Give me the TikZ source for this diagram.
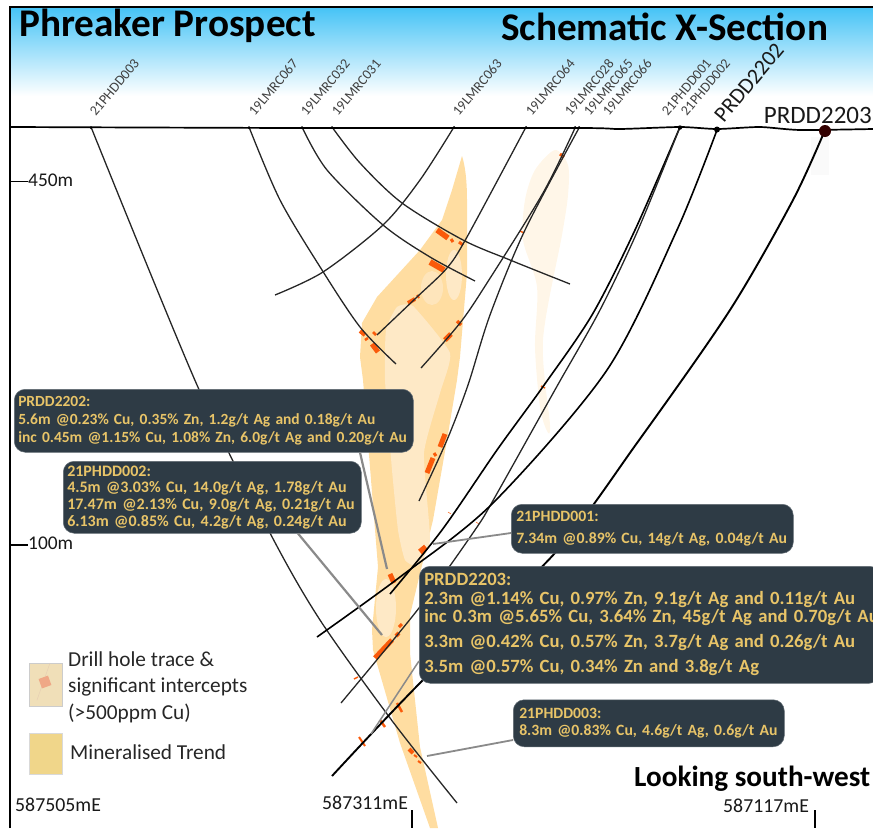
\documentclass[tikz,border=0pt]{standalone}
\usepackage{fontspec}
\setmainfont{Carlito}
\usetikzlibrary{positioning}

\definecolor{skytop}{HTML}{45C3F6}
\definecolor{trendfill}{HTML}{FFDDA1}
\definecolor{trendpale}{HTML}{FEE9C6}
\definecolor{trendfaint}{HTML}{FFF6E8}
\definecolor{boxfill}{HTML}{2E3B45}
\definecolor{boxtext}{HTML}{E8C468}
\definecolor{hitorange}{HTML}{FA5A0A}
\definecolor{leadgrey}{HTML}{8A8A8A}
\definecolor{swatchhit}{HTML}{F0DFB8}
\definecolor{swatchcore}{HTML}{EFA886}
\definecolor{swatchtrend}{HTML}{F0D68A}

\tikzset{
  trace/.style={line width=1.3pt, draw=black!85},
  tracewide/.style={line width=1.6pt, draw=black},
  hit/.style={line width=#1, draw=hitorange},
  hit/.default=5pt,
  leader/.style={line width=#1, draw=leadgrey},
  leader/.default=2.2pt,
  notebox/.style={anchor=north west, rectangle, rounded corners=11pt, fill=boxfill,
    draw=boxfill!75!white, line width=.5pt, text=boxtext, align=left, inner xsep=5pt, inner ysep=0pt},
  holelabel/.style={anchor=south west, rotate=50, inner sep=0pt, text=black!75, font=\fontsize{14}{14}\selectfont},
  eastlabel/.style={inner sep=0pt, text=black!90, font=\fontsize{19.8}{19.8}\selectfont},
  legendtext/.style={anchor=west, inner sep=0pt, text=black!85, font=\fontsize{21.3}{26.5}\selectfont, align=left},
  titletext/.style={anchor=west, inner sep=0pt, font=\fontsize{39.2}{39.2}\bfseries\selectfont}
}

\begin{document}
\begin{tikzpicture}[x=1pt,y=-1pt]
    \useasboundingbox (0,0) rectangle (873,828);

    % --- Header band ---
    \fill[top color=skytop, bottom color=white] (10,7) rectangle (873,96);

    % --- Mineralised trend ---
    \fill[trendfaint] plot[smooth cycle, tension=.5] coordinates {(555,150) (568,165) (568,195)
      (562,235) (543,340) (550,425) (547,431) (540,407) (535,347) (537,287) (523,240) (525,200) (535,170)};
    \fill[black!2] (811,137) rectangle (829,175);
    \fill[trendfill] (462,156) .. controls (465,165) and (467,180) .. (467,200) -- (467,273)
      -- (460,357) -- (457,380) -- (447,440) -- (433,520) -- (425,553) -- (410,615) -- (410,653)
      -- (420,747) -- (438,828) -- (430,828) -- (400,743) -- (373,650) -- (372,630) -- (378,567)
      -- (363,380) -- (360,357) -- (362,323) -- (377,297) -- (420,250) -- (442,220) -- (452,190) -- cycle;
    \fill[trendpale] plot[smooth cycle, tension=.3] coordinates {(385,380) (386,330) (397,307) (413,306)
      (450,353) (440,393) (424,453) (430,540) (418,566) (405,560) (398,530) (392,470)};
    \fill[trendpale] (386,608) ellipse (10 and 29);
    \fill[trendpale!70!trendfill] (432,288) ellipse (11 and 17);
    \fill[trendpale] (454,275) ellipse (8 and 25);

    % --- Significant intercepts ---
    \draw[hit=5.5pt] (437,230) -- (448,238);
    \draw[hit=3pt] (451,239) -- (453,242);
    \draw[hit=3pt] (459,242) -- (463,245);
    \draw[hit=6pt] (430,262) -- (444,270);
    \draw[hit=4pt] (408,303) -- (415,299);
    \draw[hit=2pt] (417,295) -- (419,298);
    \draw[hit=4pt] (360,331) -- (365,335);
    \draw[hit=2.5pt] (365,340) -- (368,338);
    \draw[hit=2.5pt] (373,332) -- (376,335);
    \draw[hit] (372,344) -- (378,352);
    \draw[hit=3.5pt] (457,321) -- (461,325);
    \draw[hit] (445,340) -- (451,334);
    \draw[hit=3pt] (560,154) -- (564,157);
    \draw[hit=1.5pt] (520,231) -- (524,233);
    \draw[hit=1.5pt] (541,386) -- (545,388);
    \draw[hit] (440,447) -- (445,434);
    \draw[hit=3pt] (434,453) -- (436,456);
    \draw[hit] (427,473) -- (433,458);
    \draw[hit=6pt] (420,552) -- (426,547);
    \draw[hit] (390,574) -- (394,583);
    \draw[hit] (375,658) -- (392,640);
    \draw[hit=4pt] (396,636) -- (399,633);
    \draw[hit=3pt] (399,627) -- (402,624);
    \draw[hit=1.5pt] (354,679) -- (358,677);
    \draw[hit=2.5pt] (397,703) -- (402,712);
    \draw[hit=2.5pt] (380,720) -- (385,727);
    \draw[hit=2pt] (359,737) -- (365,746);
    \draw[hit=4pt] (409,749) -- (413,753);
    \draw[hit=2pt] (414,755) -- (417,757);
    \draw[hit=2pt] (418,761) -- (421,763);
    \draw[hit=.5pt] (448,512) -- (451,514);
    \draw[hit=.5pt] (476,522) -- (479,524);

    % --- Drill holes ---
    \draw[trace] plot[smooth] coordinates {(91,127) (197,385) (270,533) (320,620) (393,722) (457,803)};
    \draw[trace] plot[smooth] coordinates {(249,127) (280,200) (322,270) (360,327) (396,364)};
    \draw[trace] plot[smooth] coordinates {(302,127) (327,170) (383,225) (430,257) (475,281)};
    \draw[trace] plot[smooth] coordinates {(332,127) (360,163) (402,203) (463,240) (510,260) (570,284)};
    \draw[trace] plot[smooth] coordinates {(454,127) (420,180) (383,225) (323,272) (275,295)};
    \draw[trace] plot[smooth] coordinates {(526,127) (467,237) (447,268) (417,297) (377,335)};
    \draw[trace] plot[smooth] coordinates {(575,128) (543,193) (487,283) (460,323) (421,368)};
    \draw[trace] plot[smooth] coordinates {(579,128) (525,230) (490,315) (468,385) (447,440) (419,501)};
    \draw[tracewide] plot[smooth] coordinates {(680,127) (635,230) (592,315) (542,388) (497,450) (442,530) (390,594)};
    \draw[trace] plot[smooth] coordinates {(680,127) (638,230) (600,310) (556,388) (495,497) (475,530) (419,608) (341,703)};
    \draw[tracewide] plot[smooth] coordinates {(717,130) (677,230) (607,370) (493,503) (400,577) (317,637)};
    \draw[line width=1.9pt] plot[smooth] coordinates {(825,130) (793,200) (730,310) (637,443) (555,553) (423,680) (332,776)};

    % --- Ground surface and frame ---
    \draw[line width=1.7pt] plot[smooth, tension=.4] coordinates {(11,127) (300,128) (580,128) (620,129) (680,127) (717,129) (760,127) (800,130) (873,129)};
    \draw[line width=2pt] (10,828) -- (10,6.5) -- (873,6.5);

    % --- Collars ---
    \foreach \px/\tipsize in {91/1.5,249/1.5,302/1.5,332/1.5,454/1.5,526/1.5,575/1.5,579/1.5,680/2.2}
        \fill (\px,127.5) circle (\tipsize);
    \fill (717,129.5) circle (3);
    \fill[black!80!red] (825,131) circle (6);

    % --- Hole labels ---
    \foreach \px/\lab in {96/21PHDD003,255/19LMRC067,307/19LMRC032,338/19LMRC031,459/19LMRC063,
        532/19LMRC064,571/19LMRC028,590/19LMRC065,609/19LMRC066,668/21PHDD001,687/21PHDD002}
        \node[holelabel] (\lab) at (\px,117) {\lab};
    \node[holelabel, text=black!90, font=\fontsize{22}{22}\selectfont] (PRDD2202) at (724,124) {PRDD2202};
    \node[inner sep=0pt, anchor=east, text=black!90, font=\fontsize{25}{25}\selectfont] (PRDD2203) at (872,115) {PRDD2203};

    % --- Depth ticks ---
    \node[eastlabel, anchor=west, font=\fontsize{19.4}{19.4}\selectfont] (depthTop) at (28,180) {450m};
    \node[eastlabel, anchor=west, font=\fontsize{19.4}{19.4}\selectfont] (depthLow) at (28,543) {100m};
    \draw[line width=1.4pt] (11,181.5) -- (depthTop.west |- 0,181.5);
    \draw[line width=1.4pt] (11,545) -- (depthLow.west |- 0,545);

    % --- Leader ends ---
    \coordinate (hitA) at (387,569);
    \coordinate (hitB) at (382,635);
    \coordinate (hitC) at (433,544);
    \coordinate (hitD) at (371,734);
    \coordinate (hitE) at (427,756);

    % --- Result boxes ---
    \node[notebox, inner xsep=4pt, text width=391pt, minimum height=63pt, yshift=-1pt, font=\fontsize{15.5}{18}\bfseries\selectfont] (boxPRDDa) at (14,388)
        {PRDD2202:\\5.6m @0.23\% Cu, 0.35\% Zn, 1.2g/t Ag and 0.18g/t Au\\inc 0.45m @1.15\% Cu, 1.08\% Zn, 6.0g/t Ag and 0.20g/t Au};
    \node[notebox, inner xsep=4pt, text width=290pt, minimum height=72pt, font=\fontsize{16}{16.7}\bfseries\selectfont] (boxPHDDb) at (63,461)
        {21PHDD002:\\4.5m @3.03\% Cu, 14.0g/t Ag, 1.78g/t Au\\17.47m @2.13\% Cu, 9.0g/t Ag, 0.21g/t Au\\6.13m @0.85\% Cu, 4.2g/t Ag, 0.24g/t Au};
    \node[notebox, text width=272pt, minimum height=49pt, font=\fontsize{15.75}{22}\bfseries\selectfont] (boxPHDDa) at (511,504)
        {21PHDD001:\\7.34m @0.89\% Cu, 14g/t Ag, 0.04g/t Au};
    \node[notebox, text width=451pt, minimum height=117pt, font=\fontsize{18.7}{18.5}\bfseries\selectfont] (boxPRDDb) at (419,566)
        {PRDD2203:\\2.3m @1.14\% Cu, 0.97\% Zn, 9.1g/t Ag and 0.11g/t Au\\\mbox{inc 0.3m @5.65\% Cu, 3.64\% Zn, 45g/t Ag and 0.70g/t Au}\\[6.5pt]3.3m @0.42\% Cu, 0.57\% Zn, 3.7g/t Ag and 0.26g/t Au\\[6.5pt]3.5m @0.57\% Cu, 0.34\% Zn and 3.8g/t Ag};
    \node[notebox, inner xsep=6pt, text width=259pt, minimum height=47pt, font=\fontsize{15.7}{17}\bfseries\selectfont] (boxPHDDc) at (513,699.5)
        {21PHDD003:\\8.3m @0.83\% Cu, 4.6g/t Ag, 0.6g/t Au};

    % --- Leaders ---
    \draw[leader] (hitA) -- (boxPRDDa.south east -| 360,450);
    \draw[leader] (hitB) -- (boxPHDDb.south -| 298,533);
    \draw[leader=1.8pt] (hitC) -- (boxPHDDa.west |- 0,533);
    \draw[leader=1.5pt] (hitD) -- (boxPRDDb.west |- 0,661);
    \draw[leader=1.8pt] (hitE) -- (boxPHDDc.west |- 0,740);

    % --- Titles ---
    \node[titletext] (titleLeft) at (19,26) {Phreaker Prospect};
    \node[titletext] (titleRight) at (501,27) {Schematic X-Section};
    \node[titletext, font=\fontsize{29.2}{29.2}\bfseries\selectfont] (lookDir) at (634,779) {Looking south-west};

    % --- Legend ---
    \draw[draw=black!20, fill=swatchhit] (29,663) rectangle (62,706);
    \draw[draw=brown!40!white, line width=.4pt] (50,663) -- (37,700);
    \fill[swatchcore, rotate around={20:(45,682)}] (40,677) rectangle (50,687);
    \draw[draw=black!15, fill=swatchtrend] (29,733) rectangle (62,774);
    \node[legendtext] (legendHit) at (68,687) {Drill hole trace \&\\significant intercepts\\(>500ppm Cu)};
    \node[legendtext] (legendTrend) at (70,752) {Mineralised Trend};

    % --- Eastings ---
    \node[eastlabel, anchor=west] (eastA) at (15,805) {587505mE};
    \node[eastlabel, anchor=west] (eastB) at (322,803) {587311mE};
    \node[eastlabel, anchor=west] (eastC) at (723,806) {587117mE};
    \draw[line width=1.2pt] (412,810) -- (412,828);
    \draw[line width=1.2pt] (815,810) -- (815,828);
\end{tikzpicture}
\end{document}
